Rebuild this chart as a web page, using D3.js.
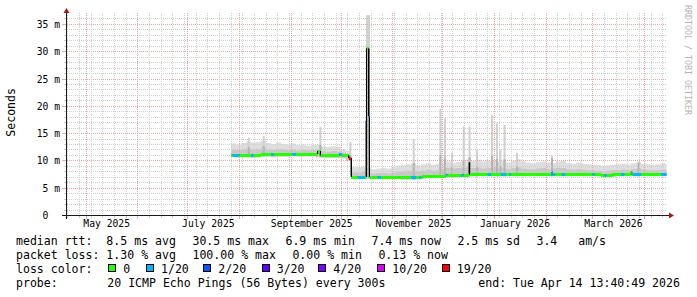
<!DOCTYPE html>
<html><head><meta charset="utf-8">
<script src="https://cdn.jsdelivr.net/npm/d3@7"></script>
<style>
body{margin:0;background:#fff}
svg{display:block;background:#fff}
text{font-family:"DejaVu Sans Mono",monospace;fill:#000;white-space:pre}
</style></head>
<body><svg id="c" width="697" height="297"></svg>
<script>
// ---------- data ----------
const endTime = "2026-04-14T13:40:49";
const rangeDays = 360;
const yMax = 37;
const yTicks = [0,5,10,15,20,25,30,35];
const yTickLabels = ["0","5 m","10 m","15 m","20 m","25 m","30 m","35 m"];
const monthLabelDates = ["2025-05-01","2025-07-01","2025-09-01","2025-11-01","2026-01-01","2026-03-01"];
const monthLabels = ["May 2025","July 2025","September 2025","November 2025","January 2026","March 2026"];

// smoke buckets: every 3 days starting at bucketStart
const bucketStart = "2025-07-27";
const bucketDays = 3;
const dataEnd = "2026-04-14T06:00";
const smokeHi = [13.1,12.9,13.2,13.4,13.3,13.4,13.6,13.2,13.0,13.3,13.0,12.9,13.1,12.8,12.9,12.7,12.8,12.9,12.6,12.5,12.6,12.5,12.1,11.7,
 8.8,8.8,8.9,8.6,
 8.4,8.5,8.6,8.5,8.7,9.0,9.2,9.3,9.4,9.1,9.3,9.5,9.2,9.4,9.6,9.8,9.5,9.7,10.0,10.2,9.9,10.1,9.8,10.0,10.0,9.7,9.9,9.6,9.9,10.2,9.8,9.6,9.5,9.7,9.8,9.6,9.5,9.8,9.9,9.5,9.4,9.6,9.4,9.3,9.2,9.2,9.0,9.1,9.2,9.3,9.4,9.3,9.5,9.6,9.4,9.3,9.2,9.3,9.5];
const smokeMid = [12.0,11.9,12.1,12.2,12.0,12.1,12.3,12.0,11.9,12.1,12.0,11.9,12.0,11.8,11.9,11.8,11.9,12.0,11.7,11.6,11.7,11.6,11.4,11.0,
 7.8,7.8,7.9,7.7,
 7.6,7.7,7.7,7.6,7.8,7.9,8.0,8.1,8.1,8.0,8.1,8.3,8.1,8.2,
 8.4,8.6,8.5,8.6,8.7,8.8,8.6,8.7,8.5,8.6,8.7,8.5,8.6,8.4,8.6,8.7,8.5,8.4,8.4,8.5,8.6,8.4,8.5,8.6,8.6,8.4,8.3,8.4,8.3,8.2,8.2,8.1,8.0,8.1,8.2,8.2,8.3,8.2,8.4,8.5,8.3,8.2,8.2,8.2,8.3];
const smokeLo = [10.7,10.6,10.6,10.6,10.5,10.6,10.7,10.7,10.6,10.7,10.7,10.7,10.8,10.7,10.7,10.8,10.8,10.6,10.5,10.5,10.5,10.5,10.4,10.0,
 6.7,6.7,6.7,6.7,
 6.7,6.7,6.7,6.6,6.6,6.6,6.5,6.5,6.5,6.6,6.7,6.8,6.8,6.8,6.9,
 7.1,7.1,7.1,7.1,7.1,7.1,7.1,7.1,7.1,7.1,7.1,7.1,7.1,7.1,7.1,7.1,7.1,7.1,7.1,7.1,7.1,7.1,7.1,7.1,7.1,7.1,7.1,7.1,7.1,7.1,7.1,7.0,7.0,7.0,7.1,7.1,7.1,7.1,7.1,7.1,7.1,7.1,7.1,7.1];

// single-sample smoke spikes: [time, top, dense top]
const smokeSpikes = [
 ["2025-08-06T00:00",14.2,12.4],["2025-08-15T00:00",14.5,12.6],["2025-09-18T00:00",16.1,12.8],
 ["2025-10-06T00:00",13.4,11.0],["2025-10-16T00:00",36.6,30.5],["2025-10-17T04:00",36.6,19.0],
 ["2025-11-13T00:00",13.9,9.5],["2025-11-29T00:00",19.4,11.0],["2025-12-01T18:00",17.7,10.5],
 ["2025-12-06T00:00",11.4,8.8],["2025-12-13T00:00",16.2,10.0],["2025-12-16T12:00",16.2,10.6],
 ["2025-12-21T00:00",11.9,9.0],["2025-12-30T00:00",18.3,10.8],["2026-01-02T00:00",16.8,10.3],
 ["2026-01-04T00:00",12.1,9.0],["2026-01-06T12:00",16.5,10.2],["2026-01-14T00:00",11.4,8.9],
 ["2026-02-04T00:00",10.8,10.4],["2026-03-28T00:00",9.8,9.6]
];

// median rtt (ms), step changes
const medianPts = [
 ["2025-07-27T00:00",11.0],["2025-08-14T00:00",11.1],["2025-09-01T00:00",11.2],["2025-09-17T00:00",11.7],
 ["2025-09-18T12:00",10.9],["2025-09-30T00:00",11.2],["2025-10-01T12:00",10.9],["2025-10-05T18:00",10.4],
 ["2025-10-07T00:00",7.0],["2025-10-16T00:00",17.3],["2025-10-16T06:00",30.5],["2025-10-17T18:00",18.1],
 ["2025-10-18T00:00",7.0],["2025-11-05T00:00",6.9],["2025-11-19T00:00",7.1],["2025-12-03T00:00",7.4],
 ["2025-12-16T20:00",9.6],["2025-12-17T04:00",7.45],["2026-02-04T12:00",7.8],["2026-02-04T22:00",7.45],
 ["2026-03-06T00:00",7.3],["2026-03-13T00:00",7.45],["2026-03-24T02:00",7.9],["2026-03-24T12:00",7.45]
];
// loss level (index into lossColors), step changes
const lossPts = [
 ["2025-07-27T00:00",0],["2025-07-28T00:00",1],["2025-08-01T00:00",0],["2025-08-08T00:00",1],["2025-08-09T12:00",0],
 ["2025-08-20T00:00",1],["2025-08-21T12:00",0],["2025-09-02T00:00",1],["2025-09-04T00:00",0],["2025-09-30T00:00",1],
 ["2025-10-01T12:00",0],["2025-10-05T18:00",6],["2025-10-07T00:00",0],["2025-10-11T00:00",1],["2025-10-15T12:00",0],
 ["2025-10-16T00:00",3],["2025-10-16T06:00",0],["2025-10-17T18:00",1],["2025-10-18T00:00",0],["2025-10-23T00:00",1],
 ["2025-10-25T00:00",0],["2025-11-12T00:00",1],["2025-11-15T00:00",0],["2025-11-17T00:00",1],["2025-11-18T00:00",0],
 ["2025-12-03T00:00",1],["2025-12-04T00:00",0],["2025-12-12T00:00",1],["2025-12-13T12:00",0],["2025-12-28T00:00",1],
 ["2025-12-30T00:00",0],["2026-01-05T00:00",1],["2026-01-08T00:00",0],["2026-01-10T00:00",1],["2026-01-11T00:00",0],
 ["2026-02-04T00:00",1],["2026-02-06T12:00",0],["2026-02-10T12:00",1],["2026-02-12T12:00",0],["2026-03-01T00:00",1],
 ["2026-03-02T06:00",0],["2026-03-08T00:00",1],["2026-03-09T06:00",0],["2026-03-18T00:00",1],["2026-03-20T00:00",0],
 ["2026-03-25T00:00",1],["2026-03-30T00:00",0],["2026-04-11T00:00",1]
];
const lossColors = ["#26ff00","#00b8ff","#0059ff","#5e00ff","#7e00ff","#dd00ff","#ff0000"];
const lossLabels = ["0","1/20","2/20","3/20","4/20","10/20","19/20"];

const rttStats = ["median rtt:  8.5 ms avg","30.5 ms max","6.9 ms min","7.4 ms now","2.5 ms sd","3.4   am/s"];
const lossStats = ["packet loss: 1.30 % avg","100.00 % max","0.00 % min","0.13 % now"];
const probeText = "20 ICMP Echo Pings (56 Bytes) every 300s";
const endText = "end: Tue Apr 14 13:40:49 2026";

// ---------- drawing ----------
const T = s => new Date((s.length === 10 ? s + "T00:00:00" : s) + "Z");
const svg = d3.select("#c");
const X0 = 67, X1 = 667, Y0 = 215, YT = 13;
const end = T(endTime);
const start = d3.utcDay.offset(end, -rangeDays);
const x = d3.scaleUtc().domain([start, end]).range([X0, X1]);
const y = d3.scaleLinear().domain([0, yMax]).range([Y0, YT]);
const px = v => Math.floor(v) + 0.5;
const py = v => Math.round(v) + 0.5;

const gridCol = "#cfcfcf", mgridCol = "#eda5a5";

// smoke
const b0 = T(bucketStart);
const buckets = smokeHi.map((h, i) => ({t: d3.utcDay.offset(b0, i * bucketDays), hi: h, mid: smokeMid[i], lo: smokeLo[i]}));
const bEnd = Object.assign({}, buckets[buckets.length - 1], {t: T(dataEnd)});
const bs = buckets.concat([bEnd]);
const gSmoke = svg.append("g");
gSmoke.append("path").datum(bs)
  .attr("fill", "#dedede")
  .attr("d", d3.area().curve(d3.curveStepAfter).x(d => x(d.t)).y0(d => y(d.lo)).y1(d => y(d.hi)));
gSmoke.append("path").datum(bs)
  .attr("fill", "#c8c8c8")
  .attr("d", d3.area().curve(d3.curveStepAfter).x(d => x(d.t)).y0(d => y(d.lo)).y1(d => y(d.mid)));
const bucketAt = t => { let r = buckets[0]; for (const b of buckets) if (b.t <= t) r = b; return r; };
smokeSpikes.forEach(([ts, hi, mid]) => {
  const t = T(ts), t1 = d3.utcHour.offset(t, 29);
  const base = bucketAt(t).lo;
  gSmoke.append("rect").attr("x", x(t)).attr("width", x(t1) - x(t))
    .attr("y", y(hi)).attr("height", y(base) - y(hi)).attr("fill", "#d0d0d0");
  gSmoke.append("rect").attr("x", x(t)).attr("width", x(t1) - x(t))
    .attr("y", y(mid)).attr("height", y(base) - y(mid)).attr("fill", "#b2b2b2");
});

// grid
const gGrid = svg.append("g").attr("shape-rendering", "crispEdges");
d3.range(1, yMax).forEach(v => {
  const major = v % 5 === 0;
  gGrid.append("line").attr("x1", X0).attr("x2", X1).attr("y1", py(y(v))).attr("y2", py(y(v)))
    .attr("stroke", major ? mgridCol : gridCol).attr("stroke-dasharray", "1,1");
  gGrid.append("line").attr("x1", major ? 62 : 64).attr("x2", X0).attr("y1", py(y(v))).attr("y2", py(y(v)))
    .attr("stroke", major ? mgridCol : gridCol);
});
const months = d3.utcMonth.range(d3.utcMonth.ceil(start), end);
const weeks = d3.utcSunday.range(start, end).filter(w => w.getUTCDate() !== 1);
weeks.forEach(w => {
  gGrid.append("line").attr("x1", px(x(w))).attr("x2", px(x(w))).attr("y1", YT).attr("y2", Y0)
    .attr("stroke", gridCol).attr("stroke-dasharray", "1,1");
  gGrid.append("line").attr("x1", px(x(w))).attr("x2", px(x(w))).attr("y1", Y0).attr("y2", Y0 + 3)
    .attr("stroke", gridCol);
});
months.forEach(m => {
  gGrid.append("line").attr("x1", px(x(m))).attr("x2", px(x(m))).attr("y1", YT).attr("y2", Y0)
    .attr("stroke", mgridCol).attr("stroke-dasharray", "1,1");
  gGrid.append("line").attr("x1", px(x(m))).attr("x2", px(x(m))).attr("y1", Y0).attr("y2", Y0 + 4)
    .attr("stroke", mgridCol);
});

// median line coloured by loss
const mp = medianPts.map(([d, v]) => ({t: T(d), v}));
const lp = lossPts.map(([d, l]) => ({t: T(d), l}));
const tEnd = T(dataEnd);
const times = Array.from(new Set(mp.concat(lp).map(p => +p.t))).sort((a, b) => a - b);
const valAt = (arr, t, k) => { let r = arr[0][k]; for (const p of arr) if (+p.t <= t) r = p[k]; return r; };
const gMed = svg.append("g");
gMed.append("path").datum(mp.concat([{t: tEnd, v: mp[mp.length - 1].v}]))
  .attr("fill", "none").attr("stroke", "#000").attr("stroke-width", 1)
  .attr("d", d3.line().curve(d3.curveStepAfter).x(d => x(d.t)).y(d => y(d.v)));
times.forEach((t, i) => {
  const t1 = i + 1 < times.length ? times[i + 1] : +tEnd;
  const v = valAt(mp, t, "v"), l = valAt(lp, t, "l");
  gMed.append("rect").attr("x", x(new Date(t))).attr("width", Math.max(1, x(new Date(t1)) - x(new Date(t))))
    .attr("y", Math.round(y(v)) - 1).attr("height", 3).attr("fill", lossColors[l]);
});
mp.forEach((p, i) => {
  if (i === 0) return;
  const a = y(mp[i - 1].v), b = y(p.v);
  if (Math.abs(a - b) > 2.5) {
    gMed.append("line").attr("x1", px(x(p.t))).attr("x2", px(x(p.t)))
      .attr("y1", a).attr("y2", b).attr("stroke", "#000").attr("stroke-width", 1);
  }
});

// axes
const gAx = svg.append("g").attr("shape-rendering", "crispEdges");
gAx.append("line").attr("x1", 62).attr("x2", X1 + 3).attr("y1", Y0 + 0.5).attr("y2", Y0 + 0.5).attr("stroke", "#1a1a1a");
gAx.append("line").attr("x1", X0 - 0.5).attr("x2", X0 - 0.5).attr("y1", Y0 + 4).attr("y2", YT - 1).attr("stroke", "#1a1a1a");
svg.append("path").attr("d", `M${X0 - 3.5},${YT} L${X0 - 0.5},${YT - 5} L${X0 + 2.5},${YT} Z`).attr("fill", "#a01c1c");
svg.append("path").attr("d", `M${X1 + 2},${Y0 - 2.5} L${X1 + 7},${Y0 + 0.5} L${X1 + 2},${Y0 + 3.5} Z`).attr("fill", "#a01c1c");

// tick labels
const tickFont = 9.7, tickCharW = tickFont * 0.602;
yTicks.forEach((v, i) => {
  const lab = yTickLabels[i];
  svg.append("text").attr("x", 60 - (lab.includes(" ") ? 0 : 2 * tickCharW)).attr("y", py(y(v)) + 3.3)
    .attr("text-anchor", "end").attr("font-size", tickFont).text(lab);
});
monthLabelDates.forEach((d, i) => {
  svg.append("text").attr("x", x(d3.utcHour.offset(T(d), 297))).attr("y", 227.3)
    .attr("text-anchor", "middle").attr("font-size", tickFont).text(monthLabels[i]);
});

// axis title and watermark
const lf = 11.56, charW = 6.96, legGap = 16.4;
svg.append("text").attr("transform", "translate(14.5,136.7) rotate(-90)").attr("font-size", lf).text("Seconds");
svg.append("text").attr("transform", "translate(685,5) rotate(90)").attr("font-size", 8.3)
  .style("fill", "#b4b4b4").text("RRDTOOL / TOBI OETIKER");

// legend: items laid out left to right with rrdtool-like gaps
const leg = svg.append("g").attr("font-size", lf);
const L1 = 245, L2 = 259.3, L3 = 273.3, L4 = 286.7;
function legendRow(items, yy) {
  let xx = 16;
  items.forEach(s => {
    leg.append("text").attr("x", xx).attr("y", yy).text(s);
    xx += s.length * charW + legGap;
  });
}
legendRow(rttStats, L1);
legendRow(lossStats, L2);
leg.append("text").attr("x", 16).attr("y", L3).text("loss color:");
[123.3, 161, 218.3, 276.7, 333.3, 392.3, 456.7].forEach((xx, i) => {
  leg.append("rect").attr("x", Math.round(xx - 15) + 0.5).attr("y", 264.5).attr("width", 7).attr("height", 7)
    .attr("fill", lossColors[i]).attr("stroke", "#000").attr("shape-rendering", "crispEdges");
  leg.append("text").attr("x", xx).attr("y", L3).text(lossLabels[i]);
});
leg.append("text").attr("x", 16).attr("y", L4).text("probe:");
leg.append("text").attr("x", 107.3).attr("y", L4).text(probeText);
leg.append("text").attr("x", 478.3).attr("y", L4).text(endText);
</script>
</body></html>
